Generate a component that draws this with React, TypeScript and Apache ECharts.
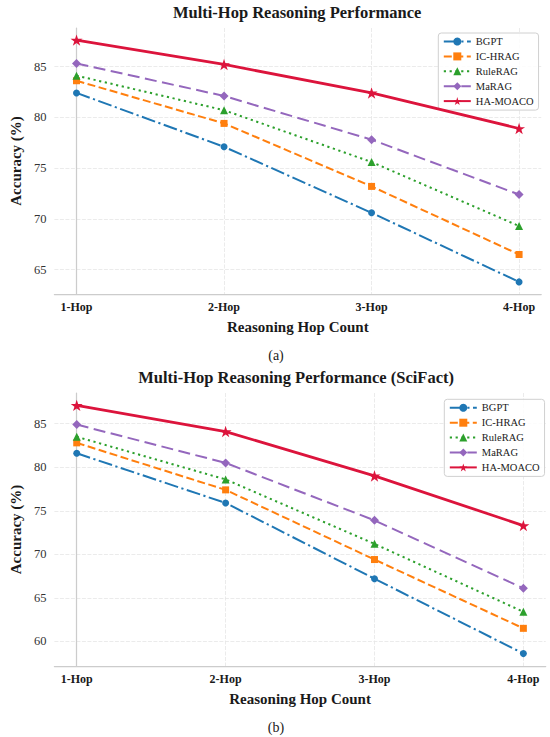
import React, { useEffect, useRef } from "react";
import * as echarts from "echarts";

// ---------- data ----------
const hops = ["1-Hop", "2-Hop", "3-Hop", "4-Hop"];
const methods = ["BGPT", "IC-HRAG", "RuleRAG", "MaRAG", "HA-MOACO"];

// Panel (a)
const bgptA = [82.4, 77.1, 70.6, 63.8];
const icHragA = [83.6, 79.4, 73.2, 66.5];
const ruleRagA = [84.1, 80.7, 75.6, 69.3];
const maRagA = [85.3, 82.1, 77.8, 72.4];
const haMoacoA = [87.6, 85.2, 82.4, 78.9];

// Panel (b) SciFact
const bgptB = [81.6, 75.9, 67.2, 58.6];
const icHragB = [82.8, 77.4, 69.4, 61.5];
const ruleRagB = [83.5, 78.6, 71.2, 63.4];
const maRagB = [84.9, 80.5, 73.9, 66.1];
const haMoacoB = [87.1, 84.1, 79.0, 73.3];

const yTicksA = [65, 70, 75, 80, 85];
const yTicksB = [60, 65, 70, 75, 80, 85];

const titleA = "Multi-Hop Reasoning Performance";
const titleB = "Multi-Hop Reasoning Performance (SciFact)";
const xTitle = "Reasoning Hop Count";
const yTitle = "Accuracy (%)";
const captionA = "(a)";
const captionB = "(b)";

// ---------- styles ----------
const STAR =
  "path://M0,-10L2.245,-3.09L9.511,-3.09L3.633,1.18L5.878,8.09L0,3.82L-5.878,8.09L-3.633,1.18L-9.511,-3.09L-2.245,-3.09Z";
const styles = [
  { color: "#1f77b4", dash: [14, 3.5, 2.2, 3.5], symbol: "circle", size: 7, width: 2 },
  { color: "#ff7f0e", dash: [8, 3.5], symbol: "rect", size: 7, width: 2 },
  { color: "#2ca02c", dash: [2.2, 3.6], symbol: "triangle", size: 8, width: 2 },
  { color: "#9467bd", dash: [12, 5.5], symbol: "diamond", size: 9, width: 2 },
  { color: "#dc143c", dash: "solid", symbol: STAR, size: 12, width: 2.8 },
];

const SERIF = '"Liberation Serif", "Times New Roman", serif';

function extent(arrs: number[][]) {
  const all = arrs.flat();
  const lo = Math.min(...all);
  const hi = Math.max(...all);
  const m = (hi - lo) * 0.05;
  return [lo - m, hi + m];
}

export default function App() {
  const ref = useRef<HTMLDivElement>(null);

  useEffect(() => {
    if (!ref.current) return;
    const chart = echarts.init(ref.current, undefined, { renderer: "svg" });

    const panels = [
      {
        data: [bgptA, icHragA, ruleRagA, maRagA, haMoacoA],
        yTicks: yTicksA,
        title: titleA,
        caption: captionA,
        grid: { left: 53, top: 28, width: 488.2, height: 266 },
        legend: { left: 438.3, top: 33 },
        titleY: 12,
        captionY: 355,
      },
      {
        data: [bgptB, icHragB, ruleRagB, maRagB, haMoacoB],
        yTicks: yTicksB,
        title: titleB,
        caption: captionB,
        grid: { left: 46.6, top: 393, width: 499.1, height: 273 },
        legend: { left: 444.3, top: 399.3 },
        titleY: 377,
        captionY: 727,
      },
    ];

    const grids: any[] = [];
    const xAxes: any[] = [];
    const yAxes: any[] = [];
    const series: any[] = [];
    const legends: any[] = [];
    const graphics: any[] = [];

    panels.forEach((p, pi) => {
      grids.push({ ...p.grid, containLabel: false });
      const [ymin, ymax] = extent(p.data);
      const cx = p.grid.left + p.grid.width / 2;
      xAxes.push({
        type: "value",
        gridIndex: pi,
        min: -0.15,
        max: hops.length - 1 + 0.15,
        name: xTitle,
        nameLocation: "middle",
        nameGap: 25,
        nameTextStyle: { fontFamily: SERIF, fontWeight: "bold", fontSize: 15, color: "#1a1a1a" },
        axisLine: { show: true, lineStyle: { color: "#cccccc", width: 1.25 } },
        axisTick: { show: false, customValues: hops.map((_, i) => i) },
        axisLabel: {
          customValues: hops.map((_, i) => i),
          formatter: (v: number) => hops[Math.round(v)] ?? "",
          fontFamily: SERIF,
          fontWeight: "bold",
          fontSize: 12,
          color: "#1a1a1a",
          margin: 7,
        },
        splitLine: { show: true, lineStyle: { color: "#e6e6e6", width: 0.8, type: [4, 1.5] } },
      });
      yAxes.push({
        type: "value",
        gridIndex: pi,
        min: ymin,
        max: ymax,
        name: yTitle,
        nameLocation: "middle",
        nameGap: 28,
        nameTextStyle: { fontFamily: SERIF, fontWeight: "bold", fontSize: 15, color: "#1a1a1a" },
        axisLine: { show: true, lineStyle: { color: "#cccccc", width: 1.25 } },
        axisTick: { show: false, customValues: p.yTicks },
        axisLabel: {
          customValues: p.yTicks,
          fontFamily: SERIF,
          fontSize: 12.5,
          color: "#333333",
          margin: 8,
        },
        splitLine: { show: true, lineStyle: { color: "#e6e6e6", width: 0.8, type: [4, 1.5] } },
      });
      p.data.forEach((vals, si) => {
        const s = styles[si];
        series.push({
          type: "line",
          name: methods[si],
          xAxisIndex: pi,
          yAxisIndex: pi,
          data: vals.map((v, i) => [i, v]),
          symbol: s.symbol,
          symbolSize: s.size,
          symbolKeepAspect: true,
          showAllSymbol: true,
          lineStyle: { color: s.color, width: s.width, type: s.dash },
          itemStyle: { color: s.color },
          z: 2 + si,
        });
      });
      legends.push({
        orient: "vertical",
        left: p.legend.left,
        top: p.legend.top,
        data: methods,
        itemWidth: 27,
        itemHeight: 10,
        itemGap: 2.9,
        padding: [2.5, 5, 3, 4.5],
        backgroundColor: "rgba(255,255,255,0.85)",
        borderColor: "#d0d0d0",
        borderWidth: 1,
        borderRadius: 3,
        selectedMode: false,
        textStyle: { fontFamily: SERIF, fontSize: 10.5, lineHeight: 12, color: "#1a1a1a" },
      });
      graphics.push({
        type: "text",
        x: cx,
        y: p.titleY,
        style: {
          text: p.title,
          fontFamily: SERIF,
          fontWeight: "bold",
          fontSize: 16.5,
          fill: "#1a1a1a",
          align: "center",
          verticalAlign: "middle",
        },
      });
      graphics.push({
        type: "text",
        x: 276,
        y: p.captionY,
        style: {
          text: p.caption,
          fontFamily: SERIF,
          fontSize: 14,
          fill: "#1a1a1a",
          align: "center",
          verticalAlign: "middle",
        },
      });
    });

    chart.setOption({
      animation: false,
      backgroundColor: "#ffffff",
      grid: grids,
      xAxis: xAxes,
      yAxis: yAxes,
      legend: legends,
      series,
      graphic: graphics,
    });

    return () => chart.dispose();
  }, []);

  return (
    <div
      ref={ref}
      style={{ position: "absolute", left: 0, top: 0, width: 550, height: 737 }}
    />
  );
}
